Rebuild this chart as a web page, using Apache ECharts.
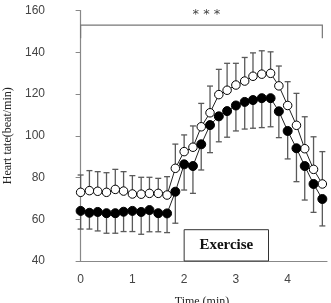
<!DOCTYPE html>
<html>
<head>
<meta charset="utf-8">
<script src="https://cdn.jsdelivr.net/npm/echarts@6/dist/echarts.min.js"></script>
<style>
  html, body { margin: 0; padding: 0; background: #fff; }
  #chart { width: 331px; height: 303px; }
</style>
</head>
<body>
<div id="chart"></div>
<script>
// time points every 10 s (min)
const time = [0, 0.17, 0.33, 0.5, 0.67, 0.83, 1, 1.17, 1.33, 1.5, 1.67, 1.83, 2, 2.17, 2.33,
  2.5, 2.67, 2.83, 3, 3.17, 3.33, 3.5, 3.67, 3.83, 4, 4.17, 4.33, 4.5, 4.67]

// open circles
const openMean = [72.9, 73.7, 73.4, 72.9, 74.3, 73.5, 72.1, 72.0, 72.4, 72.4, 71.6, 84.4, 92.4, 94.5, 104.3,
  111.0, 119.7, 121.8, 124.3, 126.2, 128.5, 129.5, 129.9, 123.9, 114.5, 105.0, 93.8, 83.9, 76.9]
const openSd = [8.3, 9.6, 9.4, 9.4, 9.6, 9.3, 8.8, 8.1, 7.7, 7.2, 8.8, 11.6, 8.0, 10.2, 11.2,
  12.8, 12.1, 12.9, 10.4, 11.3, 11.2, 11.2, 10.3, 9.5, 11.4, 15.3, 15.3, 15.6, 15.5]

// filled circles
const fillMean = [64.0, 63.1, 63.5, 62.9, 62.9, 63.6, 64.0, 63.5, 64.4, 62.9, 62.8, 73.2, 86.3, 85.5, 95.9,
  105.1, 109.3, 111.8, 114.5, 116.2, 117.1, 118.0, 118.0, 111.7, 102.3, 94.0, 85.5, 76.9, 69.7]
const fillSd = [8.7, 7.8, 9.1, 9.6, 9.6, 9.5, 9.9, 10.7, 10.4, 8.9, 9.2, 15.1, 12.3, 13.1, 12.3,
  13.2, 12.2, 12.5, 12.2, 13.0, 13.5, 14.1, 13.7, 12.6, 13.4, 16.0, 16.3, 13.6, 12.9]

const xTicks = [0, 1, 2, 3, 4]
const bracket = [0, 4.67, 153, 146.7] // x0, x1, top, ends
const stars = [2.43, 157.8, '* * *']
const exercise = [2, 3.63, 55, 'Exercise'] // x0, x1, top, label

const chart = echarts.init(document.getElementById('chart'))

function errorBars(mean, sd, dir) {
  return time.map((t, i) => [t, mean[i], sd[i] * dir])
}

function renderError(params, api) {
  const x = api.value(0)
  const y = api.value(1)
  const p0 = api.coord([x, y])
  const p1 = api.coord([x, y + api.value(2)])
  const style = { stroke: '#5a5a5a', lineWidth: 1.3 }
  return {
    type: 'group',
    children: [
      { type: 'line', shape: { x1: p0[0], y1: p0[1], x2: p1[0], y2: p1[1] }, style },
      { type: 'line', shape: { x1: p1[0] - 3, y1: p1[1], x2: p1[0] + 3, y2: p1[1] }, style }
    ]
  }
}

const lineStyle = { color: '#222', width: 1 }

chart.setOption({
  animation: false,
  grid: { left: 77, right: 4, top: 10.5, bottom: 42, containLabel: false, outerBoundsMode: 'none' },
  xAxis: {
    type: 'value',
    min: -0.07,
    max: 4.76,
    name: 'Time (min)',
    nameLocation: 'middle',
    nameGap: 35,
    nameTextStyle: { fontFamily: 'Liberation Serif', fontSize: 12, color: '#222' },
    axisLine: { lineStyle: { color: '#888', width: 1.2 } },
    axisTick: { show: false },
    splitLine: { show: false },
    axisLabel: {
      customValues: xTicks,
      margin: 13,
      fontFamily: 'Liberation Sans',
      fontSize: 12,
      color: '#444'
    }
  },
  yAxis: {
    type: 'value',
    min: 40,
    max: 160,
    interval: 20,
    name: 'Heart tate(beat/min)',
    nameLocation: 'middle',
    nameGap: 59,
    nameTextStyle: { fontFamily: 'Liberation Serif', fontSize: 12, color: '#222' },
    axisLine: { show: true, lineStyle: { color: '#888', width: 1.2 } },
    axisTick: { show: true, length: 5, lineStyle: { color: '#888' } },
    splitLine: { show: false },
    axisLabel: { margin: 32, fontFamily: 'Liberation Sans', fontSize: 12, color: '#444' }
  },
  series: [
    {
      type: 'custom',
      z: 1,
      renderItem: renderError,
      data: errorBars(openMean, openSd, 1)
    },
    {
      type: 'custom',
      z: 1,
      renderItem: renderError,
      data: errorBars(fillMean, fillSd, -1)
    },
    {
      type: 'line',
      z: 3,
      data: time.map((t, i) => [t, openMean[i]]),
      symbol: 'circle',
      symbolSize: 8.5,
      showAllSymbol: true,
      lineStyle,
      itemStyle: { color: '#fff', borderColor: '#000', borderWidth: 1 }
    },
    {
      type: 'line',
      z: 4,
      data: time.map((t, i) => [t, fillMean[i]]),
      symbol: 'circle',
      symbolSize: 9,
      showAllSymbol: true,
      lineStyle,
      itemStyle: { color: '#000', borderColor: '#000', borderWidth: 1 }
    },
    { // significance bracket
      type: 'custom',
      z: 5,
      data: [bracket],
      renderItem(params, api) {
        const a = api.coord([api.value(0), api.value(3)])
        const b = api.coord([api.value(0), api.value(2)])
        const c = api.coord([api.value(1), api.value(2)])
        const d = api.coord([api.value(1), api.value(3)])
        return {
          type: 'polyline',
          shape: { points: [a, b, c, d] },
          style: { stroke: '#777', lineWidth: 1.2, fill: null }
        }
      }
    },
    {
      type: 'custom',
      z: 5,
      data: [stars],
      renderItem(params, api) {
        const p = api.coord([api.value(0), api.value(1)])
        return {
          type: 'text',
          x: p[0],
          y: p[1],
          style: {
            text: stars[2],
            fontFamily: 'DejaVu Sans',
            fontSize: 13,
            fill: '#444',
            align: 'center',
            verticalAlign: 'middle'
          }
        }
      }
    },
    { // exercise box
      type: 'custom',
      z: 5,
      data: [exercise],
      renderItem(params, api) {
        const tl = api.coord([api.value(0), api.value(2)])
        const br = api.coord([api.value(1), 40])
        return {
          type: 'group',
          children: [
            {
              type: 'rect',
              shape: { x: tl[0], y: tl[1], width: br[0] - tl[0], height: br[1] - tl[1] },
              style: { fill: '#fff', stroke: '#333', lineWidth: 1 }
            },
            {
              type: 'text',
              x: (tl[0] + br[0]) / 2,
              y: (tl[1] + br[1]) / 2,
              style: {
                text: exercise[3],
                fontFamily: 'Liberation Serif',
                fontWeight: 'bold',
                fontSize: 15,
                fill: '#111',
                align: 'center',
                verticalAlign: 'middle'
              }
            }
          ]
        }
      }
    }
  ]
})
</script>
</body>
</html>
